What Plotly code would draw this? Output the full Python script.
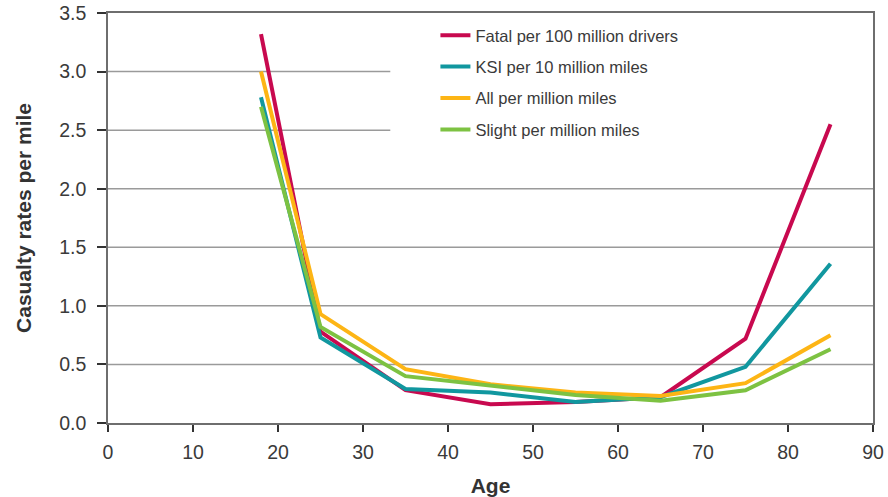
import plotly.graph_objects as go

ages = [18, 25, 35, 45, 55, 65, 75, 85]
fatal = [3.32, 0.78, 0.28, 0.16, 0.18, 0.22, 0.72, 2.55]
ksi = [2.78, 0.73, 0.29, 0.26, 0.18, 0.22, 0.48, 1.36]
all_rate = [3.00, 0.93, 0.46, 0.33, 0.26, 0.23, 0.34, 0.75]
slight = [2.70, 0.82, 0.40, 0.32, 0.24, 0.19, 0.28, 0.63]

names = ["Fatal per 100 million drivers", "KSI per 10 million miles",
         "All per million miles", "Slight per million miles"]
colors = ["#C8094F", "#11979F", "#FDB515", "#7DC242"]
series = [fatal, ksi, all_rate, slight]

full_grid = [0.5, 1.0, 1.5, 2.0]
short_grid = [2.5, 3.0]

fig = go.Figure()
for i, (n, c, s) in enumerate(zip(names, colors, series)):
    fig.add_trace(go.Scatter(x=ages, y=s, mode="lines", name=n, legendgroup=f"g{i}",
                             line=dict(color=c, width=4)))

shapes = []
for g in full_grid:
    shapes.append(dict(type="line", xref="paper", yref="y", x0=0, x1=1, y0=g, y1=g,
                       line=dict(color="#9a9a9a", width=1.5), layer="below"))
for g in short_grid:
    shapes.append(dict(type="line", xref="paper", yref="y", x0=0, x1=0.369, y0=g, y1=g,
                       line=dict(color="#9a9a9a", width=1.5), layer="below"))

fig.update_layout(
    width=888, height=497,
    margin=dict(l=108, r=15, t=13, b=74, autoexpand=False),
    plot_bgcolor="white", paper_bgcolor="white",
    font=dict(family="Liberation Sans, Arial, sans-serif", color="#3a3a3a"),
    shapes=shapes,
    showlegend=True,
    legend=dict(x=0.428, y=0.988, xanchor="left", yanchor="top",
                font=dict(size=16.5, color="#3a3a3a"), tracegroupgap=7,
                bgcolor="rgba(0,0,0,0)"),
    xaxis=dict(range=[0, 90], dtick=10, tick0=0, showgrid=False, zeroline=False,
               showline=True, linecolor="#6e6e6e", linewidth=1.5, mirror=True,
               ticks="outside", ticklen=7, tickcolor="#333", tickwidth=1.5,
               tickfont=dict(size=19.5, color="#3a3a3a"), automargin=False,
               ticklabelstandoff=4,
               title=dict(text="<b>Age</b>", font=dict(size=21, color="#333"), standoff=16)),
    yaxis=dict(range=[0, 3.5], dtick=0.5, tick0=0, tickformat=".1f", showgrid=False,
               zeroline=False, showline=True, linecolor="#6e6e6e", linewidth=1.5, mirror=True,
               ticks="outside", ticklen=9, tickcolor="#333", tickwidth=1.5,
               tickfont=dict(size=19.5, color="#3a3a3a"), automargin=False,
               ticklabelstandoff=7,
               title=dict(text="<b>Casualty rates per mile</b>", font=dict(size=21, color="#333"),
                          standoff=22)),
)

fig.write_html("out.html", config={"displayModeBar": False},
               post_script="document.body.style.margin='0';")
